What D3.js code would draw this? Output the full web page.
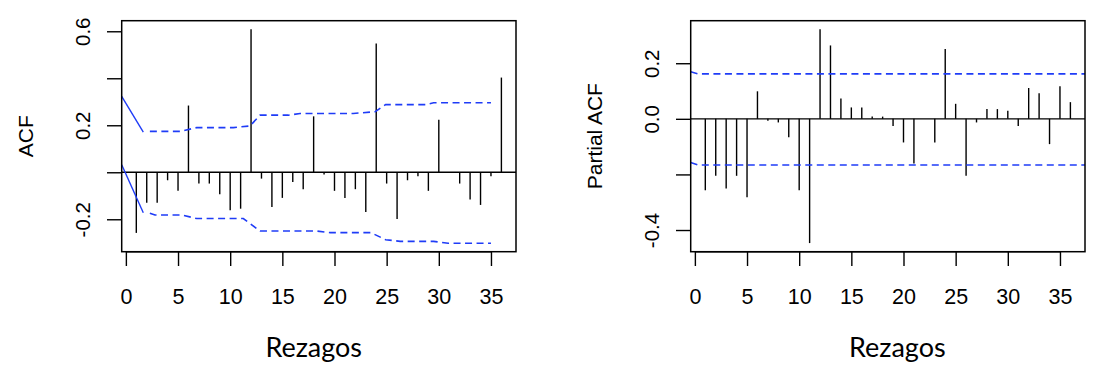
<!DOCTYPE html>
<html><head><meta charset="utf-8">
<script src="https://cdn.jsdelivr.net/npm/d3@7"></script>
<style>body{margin:0;background:#fff}</style></head>
<body>
<svg id="c" width="1118" height="378" xmlns="http://www.w3.org/2000/svg"></svg>
<script>
// ---- data ----
const lags = [1,2,3,4,5,6,7,8,9,10,11,12,13,14,15,16,17,18,19,20,21,22,23,24,25,26,27,28,29,30,31,32,33,34,35,36];
const acfValues = [-0.258,-0.13,-0.13,-0.034,-0.079,0.284,-0.048,-0.048,-0.094,-0.162,-0.155,0.609,
  -0.027,-0.148,-0.109,-0.041,-0.072,0.238,-0.01,-0.079,-0.109,-0.072,-0.169,0.548,
  -0.048,-0.199,-0.034,-0.017,-0.079,0.223,0.0,-0.048,-0.116,-0.139,-0.017,0.403];
const pacfValues = [-0.257,-0.205,-0.251,-0.205,-0.282,0.099,-0.007,-0.013,-0.066,-0.257,-0.447,0.322,
  0.264,0.073,0.041,0.041,0.008,0.008,-0.026,-0.085,-0.161,0.0,-0.085,0.251,
  0.054,-0.205,-0.013,0.035,0.035,0.029,-0.026,0.111,0.092,-0.091,0.117,0.06];

// confidence bands (lag, value)
const acfUpperSolid = [[-0.4,0.323],[1.67,0.171]];
const acfLowerSolid = [[-0.4,0.032],[1.67,-0.172]];
const acfUpperDash = [[2.3,0.174],[5.19,0.174],[6.79,0.19],[10.3,0.19],[11.9,0.197],[12.86,0.243],[15.57,0.243],
  [16.7,0.25],[21.8,0.25],[23.9,0.258],[24.9,0.288],[28.8,0.288],[29.5,0.296],[35,0.296]];
const acfLowerDash = [[2.3,-0.174],[2.79,-0.182],[5.4,-0.182],[6.79,-0.197],[11.26,-0.197],[12.86,-0.25],[18.3,-0.25],
  [19.6,-0.257],[23.5,-0.257],[24.9,-0.287],[26.3,-0.294],[29.5,-0.294],[30.9,-0.302],[35,-0.302]];
const pacfUpperDash = [[-0.4,0.169],[0.3,0.1617],[37.4,0.1617]];
const pacfLowerDash = [[-0.4,-0.157],[0.3,-0.166],[37.4,-0.166]];

const xTicks = [0,5,10,15,20,25,30,35];
const acfYTicks = [-0.2,0,0.2,0.4,0.6];
const acfYLabels = ["-0.2","","0.2","","0.6"];
const pacfYTicks = [-0.4,-0.2,0,0.2];
const pacfYLabels = ["-0.4","","0.0","0.2"];
const xTitle = "Rezagos";

// ---- drawing ----
const svg = d3.select("#c");
const tickFont = "'Liberation Sans', Arial, Helvetica, sans-serif";
const blue = "#1f3cf7";

function panel(cfg){
  const g = svg.append("g");
  const x = d3.scaleLinear().domain([-0.4,37.4]).range([cfg.left, cfg.left+394.3]);
  const y = d3.scaleLinear().domain(cfg.ydom).range([251.7, 20.7]);
  const id = "clip"+cfg.name;
  svg.append("clipPath").attr("id",id).append("rect")
    .attr("x",x.range()[0]).attr("y",20.7).attr("width",394.3).attr("height",231);

  // zero line
  g.append("line").attr("x1",x.range()[0]).attr("x2",x.range()[1])
    .attr("y1",y(0)).attr("y2",y(0)).attr("stroke","#000").attr("stroke-width",1.4);
  // bars
  g.selectAll(".bar").data(cfg.values).enter().append("line")
    .attr("x1",(d,i)=>x(lags[i])).attr("x2",(d,i)=>x(lags[i]))
    .attr("y1",y(0)).attr("y2",d=>y(d))
    .attr("stroke","#000").attr("stroke-width",1.4);
  // bands
  const line = d3.line().x(d=>x(d[0])).y(d=>y(d[1]));
  const bg = g.append("g").attr("clip-path",`url(#${id})`);
  (cfg.solid||[]).forEach(s=>bg.append("path").attr("d",line(s)).attr("fill","none")
    .attr("stroke",blue).attr("stroke-width",1.4));
  cfg.dash.forEach(s=>bg.append("path").attr("d",line(s)).attr("fill","none")
    .attr("stroke",blue).attr("stroke-width",1.6).attr("stroke-dasharray","7,4.5"));
  // box
  g.append("rect").attr("x",x.range()[0]).attr("y",20.7).attr("width",394.3).attr("height",231)
    .attr("fill","none").attr("stroke","#000").attr("stroke-width",1.5);

  // x axis
  const xa = g.append("g").attr("transform","translate(0,251.7)")
    .call(d3.axisBottom(x).tickValues(xTicks).tickSize(14.3).tickPadding(23).tickFormat(d3.format("d")));
  xa.select(".domain").attr("d",`M${x(0)},0H${x(35)}`).attr("stroke-width",1.4);
  xa.selectAll(".tick line").attr("stroke-width",1.4);
  xa.selectAll("text").attr("font-family",tickFont).attr("font-size",21.5).attr("fill","#000")
    .attr("dy",null).attr("y",52.3);

  // y axis
  const ya = g.append("g").attr("transform",`translate(${x.range()[0]},0)`)
    .call(d3.axisLeft(y).tickValues(cfg.yticks).tickSize(14.7).tickFormat((d,i)=>cfg.ylabels[i]));
  ya.select(".domain").remove();
  ya.selectAll(".tick line").attr("stroke-width",1.4);
  ya.selectAll(".tick text").attr("font-family",tickFont).attr("font-size",20.5).attr("fill","#000")
    .attr("x",null).attr("dy",null).attr("text-anchor","middle")
    .attr("transform","translate(-31.5,0) rotate(-90)");

  // y title
  g.append("text").attr("transform",`translate(${x.range()[0]-88.6},136.2) rotate(-90)`)
    .attr("text-anchor","middle").attr("font-family",tickFont).attr("font-size",21)
    .attr("fill","#000").text(cfg.ytitle);

  // x title
  const t = g.append("text").attr("x",cfg.xtitleX).attr("y",357)
    .attr("text-anchor","middle").attr("font-family","Lato, 'Open Sans', sans-serif")
    .attr("font-size",24).attr("fill","#000").text(xTitle);
  const w = t.node().getComputedTextLength();
  if (w>0) t.attr("font-size",24*96.7/w);
}

panel({name:"acf", left:121.7, ydom:[-0.338,0.645], values:acfValues,
  solid:[acfUpperSolid,acfLowerSolid], dash:[acfUpperDash,acfLowerDash],
  yticks:acfYTicks, ylabels:acfYLabels, ytitle:"ACF", xtitleX:313.7});
panel({name:"pacf", left:690.7, ydom:[-0.478,0.353], values:pacfValues,
  solid:[], dash:[pacfUpperDash,pacfLowerDash],
  yticks:pacfYTicks, ylabels:pacfYLabels, ytitle:"Partial ACF", xtitleX:897.3});
</script>
</body></html>
